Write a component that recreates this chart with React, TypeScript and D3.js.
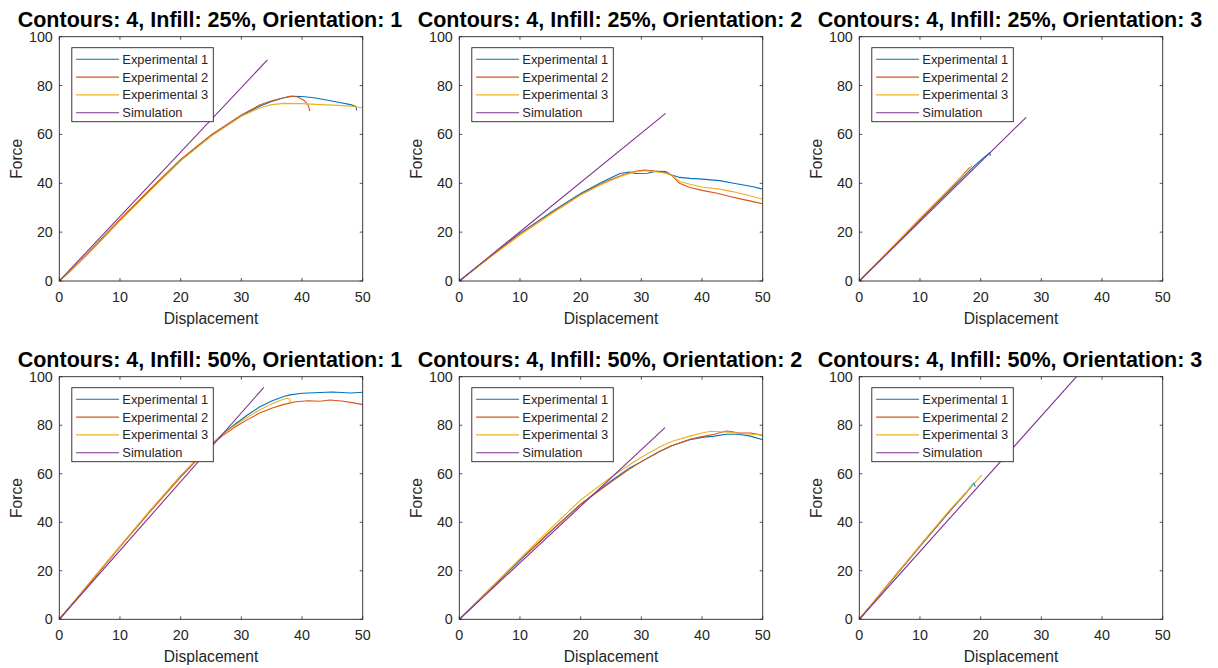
import React from "react";
import * as d3 from "d3";

type Pt = [number, number];

// ---------- Data (Displacement, Force) ----------
const xTicks = [0, 10, 20, 30, 40, 50];
const yTicks = [0, 20, 40, 60, 80, 100];
const seriesNames = ["Experimental 1", "Experimental 2", "Experimental 3", "Simulation"];
const titles = [
  "Contours: 4, Infill: 25%, Orientation: 1",
  "Contours: 4, Infill: 25%, Orientation: 2",
  "Contours: 4, Infill: 25%, Orientation: 3",
  "Contours: 4, Infill: 50%, Orientation: 1",
  "Contours: 4, Infill: 50%, Orientation: 2",
  "Contours: 4, Infill: 50%, Orientation: 3",
];

// Panel 1: Infill 25%, Orientation 1
const p1Exp1: Pt[] = [[0,0],[2,4.5],[5,11.8],[10,24.8],[15,37.3],[20,49.4],[25,59.4],[30,67.7],[33,71.5],[35,73.5],[37,75],[38.5,75.6],[40,75.5],[42,75],[44,74.1],[46,73.2],[48,72.2],[48.9,71.4],[49,69.8]];
const p1Exp2: Pt[] = [[0,0],[2,4.8],[5,12.2],[10,25.2],[15,37.7],[20,49.8],[25,59.8],[30,68],[33,72],[35,73.8],[37,75],[38.2,75.7],[39.3,75.3],[40.3,74],[41,72],[41.3,69.6]];
const p1Exp3: Pt[] = [[0,0],[2,4.5],[5,11.7],[10,24.6],[15,37],[20,49.2],[25,59.2],[30,67.4],[33,70.8],[35,72.2],[37,72.7],[40,72.6],[43,72.2],[46,71.9],[48,71.6],[50,70.8]];
const p1Sim: Pt[] = [[0,0],[34.3,90.5]];

// Panel 2: Infill 25%, Orientation 2
const p2Exp1: Pt[] = [[0,0],[5,9.8],[10,19.5],[15,28],[20,35.8],[23,39.8],[25,42.3],[26.5,44],[28,44.6],[29,44],[31,44.1],[32.5,44.9],[34,44.8],[34.8,43.6],[36.3,42.4],[38,42],[40,41.7],[42.9,41.1],[45,40.1],[48.4,38.6],[50,37.6]];
const p2Exp2: Pt[] = [[0,0],[5,9.7],[10,19.2],[15,27.5],[20,35.4],[23,39.3],[25,41.5],[27,43.5],[29,44.9],[30.5,45.4],[32,45.1],[34,44.3],[35,43.2],[36.3,40],[38,38.3],[40.2,37],[42.5,35.9],[44.6,34.6],[46.5,33.5],[48.4,32.5],[50,31.6]];
const p2Exp3: Pt[] = [[0,0],[5,9.5],[10,18.8],[15,27.2],[20,35.2],[23,39],[25,41.2],[27,43.2],[29,44.6],[30.5,45.1],[32,44.8],[34,44.1],[35,43.4],[36.3,40.7],[38,39.6],[40.2,38.4],[42.9,37.6],[45,36.6],[48.4,34.6],[50,33.5]];
const p2Sim: Pt[] = [[0,0],[34,68.6]];

// Panel 3: Infill 25%, Orientation 3
const p3Exp1: Pt[] = [[0,0],[5,12.5],[10,25],[15,37.3],[19,47.2],[20.5,50.5],[21.3,52],[21.5,52.6],[21.6,51.2]];
const p3Exp2: Pt[] = [[0,0],[5,12.6],[10,25.3],[15,37.8],[18.2,46.5]];
const p3Exp3: Pt[] = [[0,0],[5,12.8],[10,25.6],[15,38.1],[18.6,47.2]];
const p3Sim: Pt[] = [[0,0],[27.5,67]];

// Panel 4: Infill 50%, Orientation 1
const p4Exp1: Pt[] = [[0,0],[5,15],[10,30],[15,44.8],[20,59],[25,72],[27,76.5],[29,80.5],[31,84.2],[33,87.5],[35,90],[37,91.8],[38,92.5],[40,93.2],[42,93.4],[45,93.7],[48,93.3],[50,93.6]];
const p4Exp2: Pt[] = [[0,0],[5,14.8],[10,29.8],[15,44.5],[20,58.6],[25,71.8],[27,75.8],[29,79.3],[31,82.3],[33,85],[35,87],[37,88.6],[39,89.7],[41,90.1],[43,89.9],[44.6,90.4],[46.5,90],[48.5,89.2],[50,88.5]];
const p4Exp3: Pt[] = [[0,0],[5,15.2],[10,30.2],[15,45],[20,59.2],[25,72.3],[27,76.3],[29,80],[31,83.3],[33,86.3],[35,88.8],[36.5,90.3],[37.5,91.1],[38,90.8],[38.1,89.5],[37.8,89.6]];
const p4Sim: Pt[] = [[0,0],[33.7,95.6]];

// Panel 5: Infill 50%, Orientation 2
const p5Exp1: Pt[] = [[0,0],[5,12.2],[10,24.3],[15,36],[20,47.5],[25,57],[28,62.3],[30,65],[33,69.2],[35,71.5],[38,74],[40,75],[42,75.5],[44,76.3],[46,76.3],[48,75.5],[50,74]];
const p5Exp2: Pt[] = [[0,0],[5,12.3],[10,24.5],[15,36.2],[20,47.4],[25,56.6],[28,61.8],[30,65],[33,69.2],[35,71.5],[38,74.2],[40,75.3],[42,76.3],[44,77.6],[45,77.3],[46,76.8],[48,76.8],[50,75.8]];
const p5Exp3: Pt[] = [[0,0],[5,12.5],[10,25],[15,37.3],[20,49.2],[25,58.6],[28,63.6],[30,66.8],[33,71],[35,73.3],[38,75.5],[40,76.8],[41.5,77.5],[43,77.3],[45,77],[47,76.5],[50,76]];
const p5Sim: Pt[] = [[0,0],[33.9,79]];

// Panel 6: Infill 50%, Orientation 3
const p6Exp1: Pt[] = [[0,0],[5,15],[10,30],[15,44.8],[17.5,51.8],[18.9,56.3],[19.1,54.7]];
const p6Exp2: Pt[] = [[0,0],[5,15.2],[10,30.3],[15,45],[18.4,54.5]];
const p6Exp3: Pt[] = [[0,0],[5,15.3],[10,30.5],[15,45.3],[18,53.3],[20.2,59.5]];
const p6Sim: Pt[] = [[0,0],[35.8,100]];

const panelSeries: Pt[][][] = [
  [p1Exp1, p1Exp2, p1Exp3, p1Sim],
  [p2Exp1, p2Exp2, p2Exp3, p2Sim],
  [p3Exp1, p3Exp2, p3Exp3, p3Sim],
  [p4Exp1, p4Exp2, p4Exp3, p4Sim],
  [p5Exp1, p5Exp2, p5Exp3, p5Sim],
  [p6Exp1, p6Exp2, p6Exp3, p6Sim],
];

const colors = ["#0072BD", "#D95319", "#EDB120", "#7E2F8E"];
const ink = "#262626";
const font = "'Liberation Sans', Arial, Helvetica, sans-serif";

// ---------- Layout ----------
const colLeft = [59.3, 459.3, 859.3];
const rowTop = [36.7, 376.7];
const rowH = [244.3, 242.6];
const axW = 303.4;

function Panel({ idx }: { idx: number }) {
  const col = idx % 3;
  const row = Math.floor(idx / 3);
  const left = colLeft[col];
  const top = rowTop[row];
  const h = rowH[row];
  const x = d3.scaleLinear().domain([0, 50]).range([0, axW]);
  const y = d3.scaleLinear().domain([0, 100]).range([h, 0]);
  const line = d3.line<Pt>().x((d) => x(d[0])).y((d) => y(d[1]));
  const clipId = `clip-${idx}`;
  const tick = 3;
  const lgX = 12.5, lgY = 11, lgW = 141.5, lgH = 74;
  return (
    <g transform={`translate(${left},${top})`}>
      <defs>
        <clipPath id={clipId}>
          <rect x={0} y={0} width={axW} height={h} />
        </clipPath>
      </defs>
      <rect x={0} y={0} width={axW} height={h} fill="#fff" />
      <g clipPath={`url(#${clipId})`}>
        {panelSeries[idx].map((s, i) => (
          <path key={i} d={line(s) || ""} fill="none" stroke={colors[i]} strokeWidth={1.1} strokeLinejoin="round" />
        ))}
      </g>
      {/* ticks */}
      {xTicks.map((t) => (
        <g key={`xt${t}`}>
          <line x1={x(t)} x2={x(t)} y1={h} y2={h - tick} stroke={ink} strokeWidth={0.8} />
          <line x1={x(t)} x2={x(t)} y1={0} y2={tick} stroke={ink} strokeWidth={0.8} />
          <text x={x(t)} y={h + 20.6} textAnchor="middle" fontSize={14.3} fill={ink}>{t}</text>
        </g>
      ))}
      {yTicks.map((t) => (
        <g key={`yt${t}`}>
          <line x1={0} x2={tick} y1={y(t)} y2={y(t)} stroke={ink} strokeWidth={0.8} />
          <line x1={axW} x2={axW - tick} y1={y(t)} y2={y(t)} stroke={ink} strokeWidth={0.8} />
          <text x={-6.5} y={y(t) + 5} textAnchor="end" fontSize={14.3} fill={ink}>{t}</text>
        </g>
      ))}
      <rect x={0} y={0} width={axW} height={h} fill="none" stroke={ink} strokeWidth={0.9} />
      {/* labels */}
      <text x={axW / 2} y={h + 42.8} textAnchor="middle" fontSize={15.6} fill={ink}>Displacement</text>
      <text transform={`translate(${-37.8},${h / 2}) rotate(-90)`} textAnchor="middle" fontSize={15.6} fill={ink}>Force</text>
      <text x={axW / 2 - 1} y={-10} textAnchor="middle" fontSize={21.5} fontWeight="bold" fill="#000">{titles[idx]}</text>
      {/* legend */}
      <g transform={`translate(${lgX},${lgY})`}>
        <rect x={0} y={0} width={lgW} height={lgH} fill="#fff" stroke={ink} strokeWidth={0.9} />
        {seriesNames.map((n, i) => {
          const ly = 11.6 + i * 17.8;
          return (
            <g key={n}>
              <line x1={4.3} x2={47.3} y1={ly} y2={ly} stroke={colors[i]} strokeWidth={1.1} />
              <text x={50.5} y={ly + 4.6} fontSize={12.9} fill={ink}>{n}</text>
            </g>
          );
        })}
      </g>
    </g>
  );
}

export default function App() {
  return (
    <svg
      width={1218}
      height={668}
      style={{ position: "absolute", left: 0, top: 0, background: "#fff", fontFamily: font }}
      fontFamily={font}
    >
      <rect x={0} y={0} width={1218} height={668} fill="#fff" />
      {titles.map((_, i) => (
        <Panel key={i} idx={i} />
      ))}
    </svg>
  );
}
